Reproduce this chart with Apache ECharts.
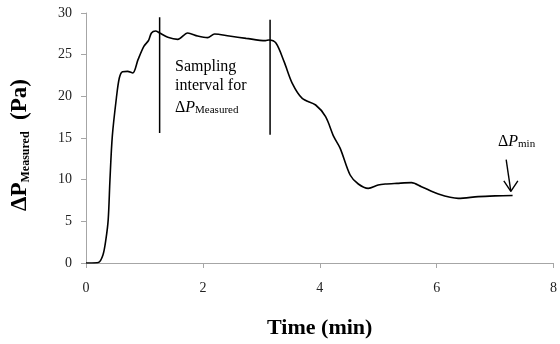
<!DOCTYPE html>
<html>
<head>
<meta charset="utf-8">
<script src="https://cdn.jsdelivr.net/npm/echarts@6/dist/echarts.min.js"></script>
<style>
  html, body { margin: 0; padding: 0; background: #fff; }
  #chart { width: 560px; height: 344px; }
</style>
</head>
<body>
<div id="chart"></div>
<script>
// Pressure drop trace over time (min, Pa)
const timeMin = [0, 0.1, 0.21, 0.29, 0.34, 0.38, 0.41, 0.45, 0.52, 0.57, 0.625, 0.71, 0.80, 0.89, 0.99, 1.07, 1.12, 1.19, 1.26, 1.40, 1.57, 1.74, 1.91, 2.08, 2.20, 2.45, 2.74, 3.07, 3.13, 3.25, 3.39, 3.53, 3.70, 3.93, 4.10, 4.24, 4.35, 4.52, 4.66, 4.83, 5.00, 5.12, 5.32, 5.57, 5.74, 6.03, 6.37, 6.71, 7.00, 7.30];
const pressurePa = [0, 0, 0.05, 0.96, 2.8, 5.2, 10, 15.2, 19.8, 22.2, 22.96, 23.0, 22.8, 24.4, 26, 26.7, 27.6, 27.84, 27.6, 27.08, 26.84, 27.6, 27.24, 27.04, 27.48, 27.24, 26.96, 26.68, 26.76, 26.4, 24.16, 21.56, 19.76, 18.96, 17.56, 15.16, 13.76, 10.56, 9.48, 8.96, 9.36, 9.48, 9.56, 9.64, 9.16, 8.28, 7.76, 7.96, 8.05, 8.1];

// Sampling interval markers (time, pressure span)
const samplingStart = [[1.26, 15.6], [1.26, 29.5]];
const samplingEnd = [[3.15, 15.4], [3.15, 29.2]];

// Arrow pointing at the minimum plateau
const arrowShaft = [[7.19, 12.4], [7.27, 8.6]];
const arrowHead = [[7.15, 9.85], [7.27, 8.6], [7.39, 9.85]];

const xTicks = { min: 0, max: 8, interval: 2 };
const yTicks = { min: 0, max: 30, interval: 5 };

const SERIF = "'Liberation Serif', 'Times New Roman', serif";

const pairs = timeMin.map((t, i) => [t, pressurePa[i]]);

const chart = echarts.init(document.getElementById('chart'), null, { renderer: 'canvas' });

function plainLine(data, width) {
  return {
    type: 'line',
    data: data,
    showSymbol: false,
    symbol: 'none',
    silent: true,
    animation: false,
    lineStyle: { color: '#000', width: width },
    z: 3
  };
}

chart.setOption({
  animation: false,
  backgroundColor: '#fff',
  grid: { left: 86, right: 4, top: 13, bottom: 81, containLabel: false },
  xAxis: {
    type: 'value',
    min: xTicks.min, max: xTicks.max, interval: xTicks.interval,
    name: 'Time (min)',
    nameLocation: 'middle',
    nameGap: 54,
    nameTextStyle: { fontFamily: SERIF, fontSize: 22, fontWeight: 'bold', color: '#000' },
    axisLine: { lineStyle: { color: '#a6a6a6', width: 1 } },
    axisTick: { show: true, length: 5, lineStyle: { color: '#a6a6a6' } },
    axisLabel: { fontFamily: SERIF, fontSize: 14, color: '#222', margin: 18 },
    splitLine: { show: false }
  },
  yAxis: {
    type: 'value',
    min: yTicks.min, max: yTicks.max, interval: yTicks.interval,
    name: '{m|ΔP}{s|Measured}{m|  (Pa)}',
    nameLocation: 'middle',
    nameRotate: 90,
    nameGap: 54,
    nameTextStyle: {
      fontFamily: SERIF, fontWeight: 'bold', color: '#000',
      padding: [0, 14, 0, 0],
      rich: {
        m: { fontFamily: SERIF, fontSize: 23, fontWeight: 'bold', color: '#000', lineHeight: 26, verticalAlign: 'bottom' },
        s: { fontFamily: SERIF, fontSize: 12, fontWeight: 'bold', color: '#000', lineHeight: 12, verticalAlign: 'bottom' }
      }
    },
    axisLine: { show: true, lineStyle: { color: '#a6a6a6', width: 1 } },
    axisTick: { show: true, length: 5, lineStyle: { color: '#a6a6a6' } },
    axisLabel: { fontFamily: SERIF, fontSize: 14, color: '#222', margin: 14 },
    splitLine: { show: false }
  },
  series: [
    Object.assign(plainLine(pairs, 1.6), { smooth: 0.3 }),
    plainLine(samplingStart, 1.5),
    plainLine(samplingEnd, 1.5),
    plainLine(arrowShaft, 1.4),
    plainLine(arrowHead, 1.4)
  ],
  graphic: [
    {
      type: 'text',
      left: 175,
      top: 57,
      silent: true,
      style: {
        text: 'Sampling\ninterval for\n{d|Δ}{p|P}{s|Measured}',
        fontFamily: SERIF,
        fontSize: 16,
        lineHeight: 19,
        fill: '#000',
        rich: {
          d: { fontFamily: SERIF, fontSize: 16, lineHeight: 21, verticalAlign: 'bottom', fill: '#000' },
          p: { fontFamily: SERIF, fontSize: 16, fontStyle: 'italic', lineHeight: 21, verticalAlign: 'bottom', fill: '#000' },
          s: { fontFamily: SERIF, fontSize: 11, lineHeight: 11, verticalAlign: 'bottom', fill: '#000' }
        }
      }
    },
    {
      type: 'text',
      left: 498,
      top: 134,
      silent: true,
      style: {
        text: '{d|Δ}{p|P}{s|min}',
        fontFamily: SERIF,
        fontSize: 16,
        fill: '#000',
        rich: {
          d: { fontFamily: SERIF, fontSize: 16, lineHeight: 20, verticalAlign: 'bottom', fill: '#000' },
          p: { fontFamily: SERIF, fontSize: 16, fontStyle: 'italic', lineHeight: 20, verticalAlign: 'bottom', fill: '#000' },
          s: { fontFamily: SERIF, fontSize: 11, lineHeight: 11, verticalAlign: 'bottom', fill: '#000' }
        }
      }
    }
  ]
});
</script>
</body>
</html>
